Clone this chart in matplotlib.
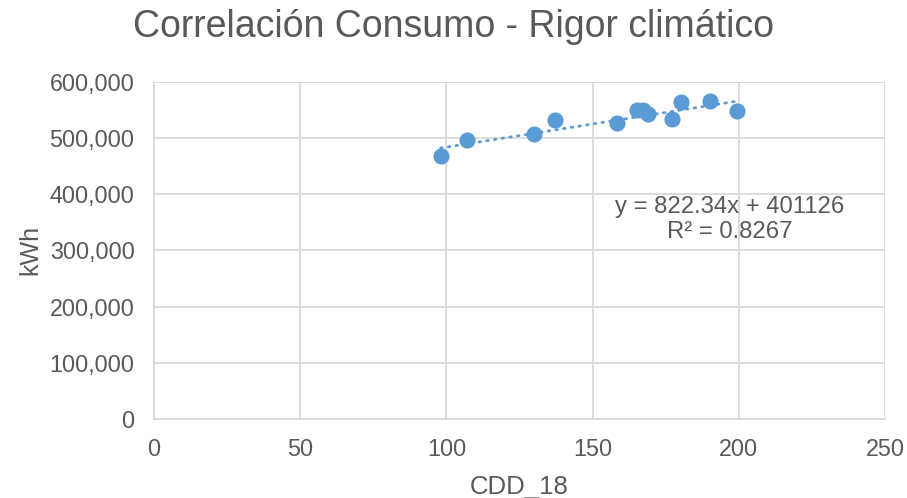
import matplotlib.pyplot as plt
import numpy as np
from matplotlib.ticker import FuncFormatter

plt.rcParams["font.family"] = ["Liberation Sans", "DejaVu Sans"]

cdd = [98.0, 107.2, 130.1, 137.0, 158.2, 165.3, 167.3, 169.1, 177.2, 180.1, 190.1, 199.3]
kwh = [467000, 496000, 506000, 532000, 526000, 549000, 549000, 543000, 533000, 563000, 566000, 547000]

slope = 822.34
intercept = 401126
r2 = 0.8267

point_color = "#5B9BD5"
text_color = "#595959"
grid_color = "#D9D9D9"

fig = plt.figure(figsize=(9.07, 4.98), dpi=100)
ax = fig.add_axes([0.1698, 0.1586, 0.806, 0.6777])

ax.scatter(cdd, kwh, s=135, color=point_color, zorder=3, linewidths=0)

# linear trendline over the data range
xs = np.array([min(cdd), max(cdd)])
ax.plot(xs, slope * xs + intercept, color=point_color, lw=2.0,
        linestyle=(0, (0.6, 2.2)), dash_capstyle="round", zorder=2)

ax.set_xlim(0, 250)
ax.set_ylim(0, 600000)
ax.set_xticks(range(0, 251, 50))
ax.set_yticks(range(0, 600001, 100000))
ax.yaxis.set_major_formatter(FuncFormatter(lambda v, p: f"{v:,.0f}"))

ax.grid(True, color=grid_color, lw=1.3)
ax.set_axisbelow(True)
for side in ["top", "right"]:
    ax.spines[side].set_visible(False)
for side in ["left", "bottom"]:
    ax.spines[side].set_color(grid_color)
    ax.spines[side].set_linewidth(1.3)
ax.tick_params(length=0, labelsize=16.8, colors=text_color)
ax.tick_params(axis="x", pad=14)
ax.tick_params(axis="y", pad=14)

ax.set_xlabel("CDD_18", fontsize=18.5, color=text_color, labelpad=10)
ax.set_ylabel("kWh", fontsize=18, color=text_color, labelpad=5)

ax.text(197, 377000, f"y = {slope}x + {intercept}", ha="center", va="center",
        fontsize=17.2, color=text_color)
ax.text(197, 332000, f"R² = {r2}", ha="center", va="center",
        fontsize=17.2, color=text_color)

fig.text(0.5, 0.945, "Correlación Consumo - Rigor climático", ha="center", va="center",
         fontsize=27, color=text_color)

fig.savefig("out.png", dpi=100)
